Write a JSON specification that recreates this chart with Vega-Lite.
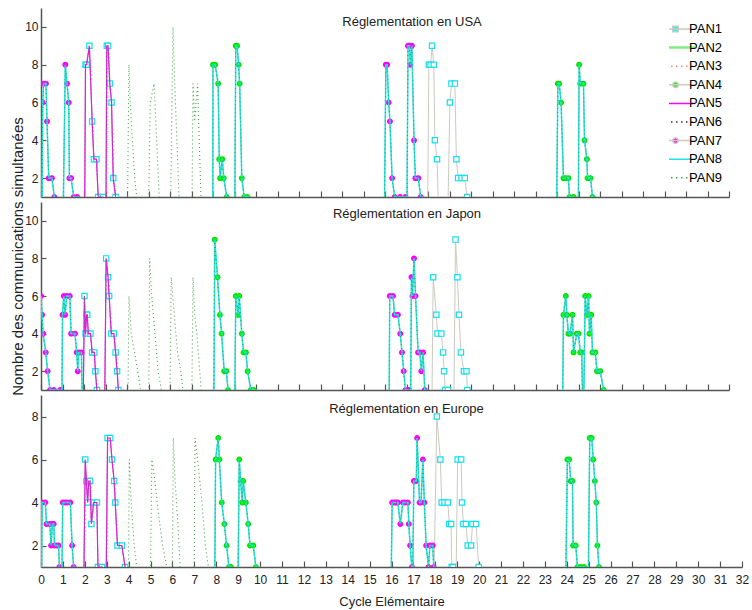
{
  "$schema": "https://vega.github.io/schema/vega-lite/v6.json",
  "background": "white",
  "padding": {"left": 10, "top": 8, "right": 5, "bottom": 3},
  "autosize": {"type": "pad"},
  "bounds": "flush",
  "spacing": 5,
  "config": {
    "font": "Liberation Sans",
    "view": {"stroke": null},
    "axis": {"grid": false, "domainColor": "#555555", "domainWidth": 1.5, "tickColor": "#555555", "tickWidth": 1.2, "labelFont": "Liberation Sans", "labelFontSize": 12, "labelColor": "#222222", "titleFont": "Liberation Sans", "titleFontWeight": "normal", "titleColor": "#222222", "zindex": 1, "labelFlush": false, "labelOverlap": false},
    "title": {"font": "Liberation Sans", "fontSize": 13, "fontWeight": "normal", "color": "#222222"}
  },
  "datasets": {
    "usa": [
      {"s":"PAN1","x":2.03,"y":0},{"s":"PAN1","x":2.07,"y":8},{"s":"PAN1","x":2.12,"y":8},{"s":"PAN1","x":2.25,"y":9},{"s":"PAN1","x":2.38,"y":5},{"s":"PAN1","x":2.46,"y":3},{"s":"PAN1","x":2.58,"y":3},{"s":"PAN1","x":2.66,"y":1},{"s":"PAN1","x":2.89,"y":1},
      {"s":"PAN1","x":3.02,"y":0},{"s":"PAN1","x":3.06,"y":9},{"s":"PAN1","x":3.12,"y":9},{"s":"PAN1","x":3.2,"y":7},{"s":"PAN1","x":3.28,"y":6},{"s":"PAN1","x":3.36,"y":2},{"s":"PAN1","x":3.47,"y":1},
      {"s":"PAN1","x":17.98,"y":0},{"s":"PAN1","x":18.04,"y":8},{"s":"PAN1","x":18.12,"y":8},{"s":"PAN1","x":18.19,"y":9},{"s":"PAN1","x":18.27,"y":8},{"s":"PAN1","x":18.32,"y":4},{"s":"PAN1","x":18.42,"y":3},{"s":"PAN1","x":18.5,"y":0},
      {"s":"PAN1","x":18.92,"y":0},{"s":"PAN1","x":19.02,"y":6},{"s":"PAN1","x":19.09,"y":7},{"s":"PAN1","x":19.25,"y":7},{"s":"PAN1","x":19.32,"y":3},{"s":"PAN1","x":19.4,"y":2},{"s":"PAN1","x":19.56,"y":2},{"s":"PAN1","x":19.71,"y":2},{"s":"PAN1","x":19.82,"y":1},
      {"s":"PAN4","x":7.99,"y":0},{"s":"PAN4","x":8.0,"y":8},{"s":"PAN4","x":8.1,"y":8},{"s":"PAN4","x":8.24,"y":7},{"s":"PAN4","x":8.29,"y":3},{"s":"PAN4","x":8.33,"y":2},{"s":"PAN4","x":8.43,"y":3},{"s":"PAN4","x":8.5,"y":2},{"s":"PAN4","x":8.64,"y":1},
      {"s":"PAN4","x":9.01,"y":0},{"s":"PAN4","x":9.06,"y":9},{"s":"PAN4","x":9.12,"y":9},{"s":"PAN4","x":9.19,"y":8},{"s":"PAN4","x":9.24,"y":7},{"s":"PAN4","x":9.34,"y":2},{"s":"PAN4","x":9.45,"y":1},{"s":"PAN4","x":9.6,"y":1},
      {"s":"PAN4","x":23.98,"y":0},{"s":"PAN4","x":24.04,"y":7},{"s":"PAN4","x":24.1,"y":7},{"s":"PAN4","x":24.19,"y":6},{"s":"PAN4","x":24.3,"y":2},{"s":"PAN4","x":24.4,"y":2},{"s":"PAN4","x":24.53,"y":2},{"s":"PAN4","x":24.58,"y":1},{"s":"PAN4","x":24.77,"y":1},
      {"s":"PAN4","x":24.99,"y":0},{"s":"PAN4","x":25.03,"y":8},{"s":"PAN4","x":25.08,"y":7},{"s":"PAN4","x":25.23,"y":7},{"s":"PAN4","x":25.28,"y":4},{"s":"PAN4","x":25.39,"y":3},{"s":"PAN4","x":25.42,"y":2},{"s":"PAN4","x":25.56,"y":2},{"s":"PAN4","x":25.65,"y":1},
      {"s":"PAN5","x":2.03,"y":0},{"s":"PAN5","x":2.07,"y":8},{"s":"PAN5","x":2.12,"y":8},{"s":"PAN5","x":2.25,"y":9},{"s":"PAN5","x":2.38,"y":5},{"s":"PAN5","x":2.46,"y":3},{"s":"PAN5","x":2.58,"y":3},{"s":"PAN5","x":2.66,"y":1},{"s":"PAN5","x":2.89,"y":1},
      {"s":"PAN5","x":3.02,"y":0},{"s":"PAN5","x":3.06,"y":9},{"s":"PAN5","x":3.12,"y":9},{"s":"PAN5","x":3.2,"y":7},{"s":"PAN5","x":3.28,"y":6},{"s":"PAN5","x":3.36,"y":2},{"s":"PAN5","x":3.47,"y":1},
      {"s":"PAN7","x":0.05,"y":0},{"s":"PAN7","x":0.08,"y":6},{"s":"PAN7","x":0.12,"y":7},{"s":"PAN7","x":0.23,"y":7},{"s":"PAN7","x":0.28,"y":5},{"s":"PAN7","x":0.36,"y":2},{"s":"PAN7","x":0.51,"y":2},{"s":"PAN7","x":0.62,"y":1},
      {"s":"PAN7","x":1.03,"y":0},{"s":"PAN7","x":1.13,"y":8},{"s":"PAN7","x":1.21,"y":7},{"s":"PAN7","x":1.29,"y":6},{"s":"PAN7","x":1.32,"y":2},{"s":"PAN7","x":1.4,"y":2},{"s":"PAN7","x":1.52,"y":1},{"s":"PAN7","x":1.68,"y":1},
      {"s":"PAN7","x":15.97,"y":0},{"s":"PAN7","x":16.04,"y":8},{"s":"PAN7","x":16.1,"y":8},{"s":"PAN7","x":16.17,"y":6},{"s":"PAN7","x":16.23,"y":5},{"s":"PAN7","x":16.33,"y":2},{"s":"PAN7","x":16.45,"y":1},{"s":"PAN7","x":16.7,"y":1},{"s":"PAN7","x":16.95,"y":1},
      {"s":"PAN7","x":17.02,"y":0},{"s":"PAN7","x":17.07,"y":9},{"s":"PAN7","x":17.14,"y":9},{"s":"PAN7","x":17.18,"y":8},{"s":"PAN7","x":17.25,"y":9},{"s":"PAN7","x":17.35,"y":4},{"s":"PAN7","x":17.41,"y":2},{"s":"PAN7","x":17.55,"y":2},{"s":"PAN7","x":17.66,"y":1},
      {"s":"PAN8","x":0.05,"y":0},{"s":"PAN8","x":0.08,"y":6},{"s":"PAN8","x":0.12,"y":7},{"s":"PAN8","x":0.23,"y":7},{"s":"PAN8","x":0.28,"y":5},{"s":"PAN8","x":0.36,"y":2},{"s":"PAN8","x":0.51,"y":2},{"s":"PAN8","x":0.62,"y":1},
      {"s":"PAN8","x":1.03,"y":0},{"s":"PAN8","x":1.13,"y":8},{"s":"PAN8","x":1.21,"y":7},{"s":"PAN8","x":1.29,"y":6},{"s":"PAN8","x":1.32,"y":2},{"s":"PAN8","x":1.4,"y":2},{"s":"PAN8","x":1.52,"y":1},{"s":"PAN8","x":1.68,"y":1},
      {"s":"PAN8","x":7.99,"y":0},{"s":"PAN8","x":8.0,"y":8},{"s":"PAN8","x":8.1,"y":8},{"s":"PAN8","x":8.24,"y":7},{"s":"PAN8","x":8.29,"y":3},{"s":"PAN8","x":8.33,"y":2},{"s":"PAN8","x":8.43,"y":3},{"s":"PAN8","x":8.5,"y":2},{"s":"PAN8","x":8.64,"y":1},
      {"s":"PAN8","x":9.01,"y":0},{"s":"PAN8","x":9.06,"y":9},{"s":"PAN8","x":9.12,"y":9},{"s":"PAN8","x":9.19,"y":8},{"s":"PAN8","x":9.24,"y":7},{"s":"PAN8","x":9.34,"y":2},{"s":"PAN8","x":9.45,"y":1},{"s":"PAN8","x":9.6,"y":1},
      {"s":"PAN8","x":15.97,"y":0},{"s":"PAN8","x":16.04,"y":8},{"s":"PAN8","x":16.1,"y":8},{"s":"PAN8","x":16.17,"y":6},{"s":"PAN8","x":16.23,"y":5},{"s":"PAN8","x":16.33,"y":2},{"s":"PAN8","x":16.45,"y":1},{"s":"PAN8","x":16.7,"y":1},{"s":"PAN8","x":16.95,"y":1},
      {"s":"PAN8","x":17.02,"y":0},{"s":"PAN8","x":17.07,"y":9},{"s":"PAN8","x":17.14,"y":9},{"s":"PAN8","x":17.18,"y":8},{"s":"PAN8","x":17.25,"y":9},{"s":"PAN8","x":17.35,"y":4},{"s":"PAN8","x":17.41,"y":2},{"s":"PAN8","x":17.55,"y":2},{"s":"PAN8","x":17.66,"y":1},
      {"s":"PAN8","x":23.98,"y":0},{"s":"PAN8","x":24.04,"y":7},{"s":"PAN8","x":24.1,"y":7},{"s":"PAN8","x":24.19,"y":6},{"s":"PAN8","x":24.3,"y":2},{"s":"PAN8","x":24.4,"y":2},{"s":"PAN8","x":24.53,"y":2},{"s":"PAN8","x":24.58,"y":1},{"s":"PAN8","x":24.77,"y":1},
      {"s":"PAN8","x":24.99,"y":0},{"s":"PAN8","x":25.03,"y":8},{"s":"PAN8","x":25.08,"y":7},{"s":"PAN8","x":25.23,"y":7},{"s":"PAN8","x":25.28,"y":4},{"s":"PAN8","x":25.39,"y":3},{"s":"PAN8","x":25.42,"y":2},{"s":"PAN8","x":25.56,"y":2},{"s":"PAN8","x":25.65,"y":1},
      {"s":"PAN9","x":4.02,"y":0},{"s":"PAN9","x":4.09,"y":8},{"s":"PAN9","x":4.15,"y":6},{"s":"PAN9","x":4.25,"y":4},{"s":"PAN9","x":4.36,"y":2},{"s":"PAN9","x":4.45,"y":1},
      {"s":"PAN9","x":5.0,"y":0},{"s":"PAN9","x":5.08,"y":6},{"s":"PAN9","x":5.26,"y":7},{"s":"PAN9","x":5.38,"y":4},{"s":"PAN9","x":5.5,"y":1},
      {"s":"PAN9","x":6.02,"y":0},{"s":"PAN9","x":6.14,"y":10},{"s":"PAN9","x":6.22,"y":7},{"s":"PAN9","x":6.32,"y":4},{"s":"PAN9","x":6.42,"y":1},
      {"s":"PAN9","x":7.02,"y":0},{"s":"PAN9","x":7.07,"y":7},{"s":"PAN9","x":7.15,"y":5},{"s":"PAN9","x":7.28,"y":7},{"s":"PAN9","x":7.36,"y":4},{"s":"PAN9","x":7.44,"y":1},
      {"s":"PAN9","x":0.05,"y":0},{"s":"PAN9","x":0.08,"y":6},{"s":"PAN9","x":0.12,"y":7},{"s":"PAN9","x":0.23,"y":7},{"s":"PAN9","x":0.28,"y":5},{"s":"PAN9","x":0.36,"y":2},{"s":"PAN9","x":0.51,"y":2},{"s":"PAN9","x":0.62,"y":1},
      {"s":"PAN9","x":1.03,"y":0},{"s":"PAN9","x":1.13,"y":8},{"s":"PAN9","x":1.21,"y":7},{"s":"PAN9","x":1.29,"y":6},{"s":"PAN9","x":1.32,"y":2},{"s":"PAN9","x":1.4,"y":2},{"s":"PAN9","x":1.52,"y":1},{"s":"PAN9","x":1.68,"y":1},
      {"s":"PAN9","x":2.03,"y":0},{"s":"PAN9","x":2.07,"y":8},{"s":"PAN9","x":2.12,"y":8},{"s":"PAN9","x":2.25,"y":9},{"s":"PAN9","x":2.38,"y":5},{"s":"PAN9","x":2.46,"y":3},{"s":"PAN9","x":2.58,"y":3},{"s":"PAN9","x":2.66,"y":1},{"s":"PAN9","x":2.89,"y":1},
      {"s":"PAN9","x":3.02,"y":0},{"s":"PAN9","x":3.06,"y":9},{"s":"PAN9","x":3.12,"y":9},{"s":"PAN9","x":3.2,"y":7},{"s":"PAN9","x":3.28,"y":6},{"s":"PAN9","x":3.36,"y":2},{"s":"PAN9","x":3.47,"y":1},
      {"s":"PAN9","x":7.99,"y":0},{"s":"PAN9","x":8.0,"y":8},{"s":"PAN9","x":8.1,"y":8},{"s":"PAN9","x":8.24,"y":7},{"s":"PAN9","x":8.29,"y":3},{"s":"PAN9","x":8.33,"y":2},{"s":"PAN9","x":8.43,"y":3},{"s":"PAN9","x":8.5,"y":2},{"s":"PAN9","x":8.64,"y":1},
      {"s":"PAN9","x":9.01,"y":0},{"s":"PAN9","x":9.06,"y":9},{"s":"PAN9","x":9.12,"y":9},{"s":"PAN9","x":9.19,"y":8},{"s":"PAN9","x":9.24,"y":7},{"s":"PAN9","x":9.34,"y":2},{"s":"PAN9","x":9.45,"y":1},{"s":"PAN9","x":9.6,"y":1},
      {"s":"PAN9","x":15.97,"y":0},{"s":"PAN9","x":16.04,"y":8},{"s":"PAN9","x":16.1,"y":8},{"s":"PAN9","x":16.17,"y":6},{"s":"PAN9","x":16.23,"y":5},{"s":"PAN9","x":16.33,"y":2},{"s":"PAN9","x":16.45,"y":1},{"s":"PAN9","x":16.7,"y":1},{"s":"PAN9","x":16.95,"y":1},
      {"s":"PAN9","x":17.02,"y":0},{"s":"PAN9","x":17.07,"y":9},{"s":"PAN9","x":17.14,"y":9},{"s":"PAN9","x":17.18,"y":8},{"s":"PAN9","x":17.25,"y":9},{"s":"PAN9","x":17.35,"y":4},{"s":"PAN9","x":17.41,"y":2},{"s":"PAN9","x":17.55,"y":2},{"s":"PAN9","x":17.66,"y":1},
      {"s":"PAN9","x":23.98,"y":0},{"s":"PAN9","x":24.04,"y":7},{"s":"PAN9","x":24.1,"y":7},{"s":"PAN9","x":24.19,"y":6},{"s":"PAN9","x":24.3,"y":2},{"s":"PAN9","x":24.4,"y":2},{"s":"PAN9","x":24.53,"y":2},{"s":"PAN9","x":24.58,"y":1},{"s":"PAN9","x":24.77,"y":1},
      {"s":"PAN9","x":24.99,"y":0},{"s":"PAN9","x":25.03,"y":8},{"s":"PAN9","x":25.08,"y":7},{"s":"PAN9","x":25.23,"y":7},{"s":"PAN9","x":25.28,"y":4},{"s":"PAN9","x":25.39,"y":3},{"s":"PAN9","x":25.42,"y":2},{"s":"PAN9","x":25.56,"y":2},{"s":"PAN9","x":25.65,"y":1}
    ],
    "japon": [
      {"s":"PAN1","x":1.96,"y":0},{"s":"PAN1","x":2.02,"y":6},{"s":"PAN1","x":2.07,"y":4},{"s":"PAN1","x":2.12,"y":5},{"s":"PAN1","x":2.15,"y":5},{"s":"PAN1","x":2.2,"y":4},{"s":"PAN1","x":2.3,"y":4},{"s":"PAN1","x":2.38,"y":3},{"s":"PAN1","x":2.48,"y":3},{"s":"PAN1","x":2.53,"y":2},{"s":"PAN1","x":2.6,"y":1},
      {"s":"PAN1","x":2.96,"y":0},{"s":"PAN1","x":3.03,"y":8},{"s":"PAN1","x":3.12,"y":7},{"s":"PAN1","x":3.17,"y":6},{"s":"PAN1","x":3.27,"y":4},{"s":"PAN1","x":3.39,"y":4},{"s":"PAN1","x":3.47,"y":3},{"s":"PAN1","x":3.54,"y":2},{"s":"PAN1","x":3.6,"y":1},
      {"s":"PAN1","x":18.18,"y":0},{"s":"PAN1","x":18.24,"y":7},{"s":"PAN1","x":18.39,"y":5},{"s":"PAN1","x":18.44,"y":4},{"s":"PAN1","x":18.62,"y":4},{"s":"PAN1","x":18.7,"y":3},{"s":"PAN1","x":18.75,"y":2},{"s":"PAN1","x":18.8,"y":1},{"s":"PAN1","x":18.93,"y":1},
      {"s":"PAN1","x":19.2,"y":0},{"s":"PAN1","x":19.28,"y":9},{"s":"PAN1","x":19.37,"y":7},{"s":"PAN1","x":19.44,"y":5},{"s":"PAN1","x":19.53,"y":3},{"s":"PAN1","x":19.67,"y":2},{"s":"PAN1","x":19.79,"y":2},{"s":"PAN1","x":19.83,"y":1},
      {"s":"PAN4","x":8.04,"y":0},{"s":"PAN4","x":8.08,"y":9},{"s":"PAN4","x":8.21,"y":7},{"s":"PAN4","x":8.32,"y":5},{"s":"PAN4","x":8.4,"y":4},{"s":"PAN4","x":8.52,"y":2},{"s":"PAN4","x":8.62,"y":2},{"s":"PAN4","x":8.7,"y":1},
      {"s":"PAN4","x":9.01,"y":0},{"s":"PAN4","x":9.06,"y":6},{"s":"PAN4","x":9.17,"y":5},{"s":"PAN4","x":9.22,"y":6},{"s":"PAN4","x":9.34,"y":4},{"s":"PAN4","x":9.42,"y":3},{"s":"PAN4","x":9.53,"y":3},{"s":"PAN4","x":9.61,"y":2},{"s":"PAN4","x":9.76,"y":1},{"s":"PAN4","x":9.9,"y":1},
      {"s":"PAN4","x":24.26,"y":0},{"s":"PAN4","x":24.3,"y":5},{"s":"PAN4","x":24.41,"y":6},{"s":"PAN4","x":24.46,"y":5},{"s":"PAN4","x":24.53,"y":4},{"s":"PAN4","x":24.61,"y":4},{"s":"PAN4","x":24.72,"y":5},{"s":"PAN4","x":24.77,"y":3},{"s":"PAN4","x":24.92,"y":4},{"s":"PAN4","x":25.0,"y":4},{"s":"PAN4","x":25.08,"y":3},{"s":"PAN4","x":25.15,"y":3},{"s":"PAN4","x":25.2,"y":0},
      {"s":"PAN4","x":25.24,"y":0},{"s":"PAN4","x":25.31,"y":6},{"s":"PAN4","x":25.39,"y":5},{"s":"PAN4","x":25.47,"y":6},{"s":"PAN4","x":25.51,"y":4},{"s":"PAN4","x":25.59,"y":5},{"s":"PAN4","x":25.65,"y":3},{"s":"PAN4","x":25.78,"y":3},{"s":"PAN4","x":25.86,"y":2},{"s":"PAN4","x":26.01,"y":2},{"s":"PAN4","x":26.17,"y":1},
      {"s":"PAN5","x":1.96,"y":0},{"s":"PAN5","x":2.02,"y":6},{"s":"PAN5","x":2.07,"y":4},{"s":"PAN5","x":2.12,"y":5},{"s":"PAN5","x":2.15,"y":5},{"s":"PAN5","x":2.2,"y":4},{"s":"PAN5","x":2.3,"y":4},{"s":"PAN5","x":2.38,"y":3},{"s":"PAN5","x":2.48,"y":3},{"s":"PAN5","x":2.53,"y":2},{"s":"PAN5","x":2.6,"y":1},
      {"s":"PAN5","x":2.96,"y":0},{"s":"PAN5","x":3.03,"y":8},{"s":"PAN5","x":3.12,"y":7},{"s":"PAN5","x":3.17,"y":6},{"s":"PAN5","x":3.27,"y":4},{"s":"PAN5","x":3.39,"y":4},{"s":"PAN5","x":3.47,"y":3},{"s":"PAN5","x":3.54,"y":2},{"s":"PAN5","x":3.6,"y":1},
      {"s":"PAN7","x":0.0,"y":6},{"s":"PAN7","x":0.05,"y":5},{"s":"PAN7","x":0.1,"y":4},{"s":"PAN7","x":0.22,"y":3},{"s":"PAN7","x":0.31,"y":2},{"s":"PAN7","x":0.42,"y":1},{"s":"PAN7","x":0.6,"y":1},{"s":"PAN7","x":0.89,"y":1},
      {"s":"PAN7","x":0.97,"y":0},{"s":"PAN7","x":1.0,"y":5},{"s":"PAN7","x":1.06,"y":6},{"s":"PAN7","x":1.12,"y":5},{"s":"PAN7","x":1.2,"y":6},{"s":"PAN7","x":1.34,"y":6},{"s":"PAN7","x":1.4,"y":4},{"s":"PAN7","x":1.58,"y":4},{"s":"PAN7","x":1.66,"y":3},{"s":"PAN7","x":1.71,"y":2},{"s":"PAN7","x":1.76,"y":3},{"s":"PAN7","x":1.88,"y":3},{"s":"PAN7","x":1.93,"y":0},
      {"s":"PAN7","x":16.19,"y":0},{"s":"PAN7","x":16.22,"y":6},{"s":"PAN7","x":16.37,"y":6},{"s":"PAN7","x":16.45,"y":5},{"s":"PAN7","x":16.6,"y":5},{"s":"PAN7","x":16.71,"y":4},{"s":"PAN7","x":16.79,"y":3},{"s":"PAN7","x":16.87,"y":2},{"s":"PAN7","x":16.95,"y":1},{"s":"PAN7","x":17.1,"y":1},
      {"s":"PAN7","x":17.19,"y":0},{"s":"PAN7","x":17.23,"y":7},{"s":"PAN7","x":17.28,"y":6},{"s":"PAN7","x":17.35,"y":8},{"s":"PAN7","x":17.42,"y":6},{"s":"PAN7","x":17.54,"y":3},{"s":"PAN7","x":17.62,"y":3},{"s":"PAN7","x":17.69,"y":2},{"s":"PAN7","x":17.77,"y":3},{"s":"PAN7","x":17.85,"y":1},
      {"s":"PAN8","x":0.0,"y":6},{"s":"PAN8","x":0.05,"y":5},{"s":"PAN8","x":0.1,"y":4},{"s":"PAN8","x":0.22,"y":3},{"s":"PAN8","x":0.31,"y":2},{"s":"PAN8","x":0.42,"y":1},{"s":"PAN8","x":0.6,"y":1},{"s":"PAN8","x":0.89,"y":1},
      {"s":"PAN8","x":0.97,"y":0},{"s":"PAN8","x":1.0,"y":5},{"s":"PAN8","x":1.06,"y":6},{"s":"PAN8","x":1.12,"y":5},{"s":"PAN8","x":1.2,"y":6},{"s":"PAN8","x":1.34,"y":6},{"s":"PAN8","x":1.4,"y":4},{"s":"PAN8","x":1.58,"y":4},{"s":"PAN8","x":1.66,"y":3},{"s":"PAN8","x":1.71,"y":2},{"s":"PAN8","x":1.76,"y":3},{"s":"PAN8","x":1.88,"y":3},{"s":"PAN8","x":1.93,"y":0},
      {"s":"PAN8","x":8.04,"y":0},{"s":"PAN8","x":8.08,"y":9},{"s":"PAN8","x":8.21,"y":7},{"s":"PAN8","x":8.32,"y":5},{"s":"PAN8","x":8.4,"y":4},{"s":"PAN8","x":8.52,"y":2},{"s":"PAN8","x":8.62,"y":2},{"s":"PAN8","x":8.7,"y":1},
      {"s":"PAN8","x":9.01,"y":0},{"s":"PAN8","x":9.06,"y":6},{"s":"PAN8","x":9.17,"y":5},{"s":"PAN8","x":9.22,"y":6},{"s":"PAN8","x":9.34,"y":4},{"s":"PAN8","x":9.42,"y":3},{"s":"PAN8","x":9.53,"y":3},{"s":"PAN8","x":9.61,"y":2},{"s":"PAN8","x":9.76,"y":1},{"s":"PAN8","x":9.9,"y":1},
      {"s":"PAN8","x":16.19,"y":0},{"s":"PAN8","x":16.22,"y":6},{"s":"PAN8","x":16.37,"y":6},{"s":"PAN8","x":16.45,"y":5},{"s":"PAN8","x":16.6,"y":5},{"s":"PAN8","x":16.71,"y":4},{"s":"PAN8","x":16.79,"y":3},{"s":"PAN8","x":16.87,"y":2},{"s":"PAN8","x":16.95,"y":1},{"s":"PAN8","x":17.1,"y":1},
      {"s":"PAN8","x":17.19,"y":0},{"s":"PAN8","x":17.23,"y":7},{"s":"PAN8","x":17.28,"y":6},{"s":"PAN8","x":17.35,"y":8},{"s":"PAN8","x":17.42,"y":6},{"s":"PAN8","x":17.54,"y":3},{"s":"PAN8","x":17.62,"y":3},{"s":"PAN8","x":17.69,"y":2},{"s":"PAN8","x":17.77,"y":3},{"s":"PAN8","x":17.85,"y":1},
      {"s":"PAN8","x":24.26,"y":0},{"s":"PAN8","x":24.3,"y":5},{"s":"PAN8","x":24.41,"y":6},{"s":"PAN8","x":24.46,"y":5},{"s":"PAN8","x":24.53,"y":4},{"s":"PAN8","x":24.61,"y":4},{"s":"PAN8","x":24.72,"y":5},{"s":"PAN8","x":24.77,"y":3},{"s":"PAN8","x":24.92,"y":4},{"s":"PAN8","x":25.0,"y":4},{"s":"PAN8","x":25.08,"y":3},{"s":"PAN8","x":25.15,"y":3},{"s":"PAN8","x":25.2,"y":0},
      {"s":"PAN8","x":25.24,"y":0},{"s":"PAN8","x":25.31,"y":6},{"s":"PAN8","x":25.39,"y":5},{"s":"PAN8","x":25.47,"y":6},{"s":"PAN8","x":25.51,"y":4},{"s":"PAN8","x":25.59,"y":5},{"s":"PAN8","x":25.65,"y":3},{"s":"PAN8","x":25.78,"y":3},{"s":"PAN8","x":25.86,"y":2},{"s":"PAN8","x":26.01,"y":2},{"s":"PAN8","x":26.17,"y":1},
      {"s":"PAN9","x":4.04,"y":0},{"s":"PAN9","x":4.09,"y":6},{"s":"PAN9","x":4.2,"y":4},{"s":"PAN9","x":4.35,"y":3},{"s":"PAN9","x":4.5,"y":2},{"s":"PAN9","x":4.63,"y":1},
      {"s":"PAN9","x":5.01,"y":0},{"s":"PAN9","x":5.05,"y":8},{"s":"PAN9","x":5.15,"y":6},{"s":"PAN9","x":5.3,"y":4},{"s":"PAN9","x":5.45,"y":2},{"s":"PAN9","x":5.6,"y":1},
      {"s":"PAN9","x":5.99,"y":0},{"s":"PAN9","x":6.06,"y":7},{"s":"PAN9","x":6.2,"y":5},{"s":"PAN9","x":6.35,"y":3},{"s":"PAN9","x":6.5,"y":2},{"s":"PAN9","x":6.6,"y":1},
      {"s":"PAN9","x":7.01,"y":0},{"s":"PAN9","x":7.07,"y":7},{"s":"PAN9","x":7.15,"y":5},{"s":"PAN9","x":7.25,"y":4},{"s":"PAN9","x":7.35,"y":2.5},{"s":"PAN9","x":7.45,"y":1},
      {"s":"PAN9","x":0.0,"y":6},{"s":"PAN9","x":0.05,"y":5},{"s":"PAN9","x":0.1,"y":4},{"s":"PAN9","x":0.22,"y":3},{"s":"PAN9","x":0.31,"y":2},{"s":"PAN9","x":0.42,"y":1},{"s":"PAN9","x":0.6,"y":1},{"s":"PAN9","x":0.89,"y":1},
      {"s":"PAN9","x":0.97,"y":0},{"s":"PAN9","x":1.0,"y":5},{"s":"PAN9","x":1.06,"y":6},{"s":"PAN9","x":1.12,"y":5},{"s":"PAN9","x":1.2,"y":6},{"s":"PAN9","x":1.34,"y":6},{"s":"PAN9","x":1.4,"y":4},{"s":"PAN9","x":1.58,"y":4},{"s":"PAN9","x":1.66,"y":3},{"s":"PAN9","x":1.71,"y":2},{"s":"PAN9","x":1.76,"y":3},{"s":"PAN9","x":1.88,"y":3},{"s":"PAN9","x":1.93,"y":0},
      {"s":"PAN9","x":1.96,"y":0},{"s":"PAN9","x":2.02,"y":6},{"s":"PAN9","x":2.07,"y":4},{"s":"PAN9","x":2.12,"y":5},{"s":"PAN9","x":2.15,"y":5},{"s":"PAN9","x":2.2,"y":4},{"s":"PAN9","x":2.3,"y":4},{"s":"PAN9","x":2.38,"y":3},{"s":"PAN9","x":2.48,"y":3},{"s":"PAN9","x":2.53,"y":2},{"s":"PAN9","x":2.6,"y":1},
      {"s":"PAN9","x":2.96,"y":0},{"s":"PAN9","x":3.03,"y":8},{"s":"PAN9","x":3.12,"y":7},{"s":"PAN9","x":3.17,"y":6},{"s":"PAN9","x":3.27,"y":4},{"s":"PAN9","x":3.39,"y":4},{"s":"PAN9","x":3.47,"y":3},{"s":"PAN9","x":3.54,"y":2},{"s":"PAN9","x":3.6,"y":1},
      {"s":"PAN9","x":8.04,"y":0},{"s":"PAN9","x":8.08,"y":9},{"s":"PAN9","x":8.21,"y":7},{"s":"PAN9","x":8.32,"y":5},{"s":"PAN9","x":8.4,"y":4},{"s":"PAN9","x":8.52,"y":2},{"s":"PAN9","x":8.62,"y":2},{"s":"PAN9","x":8.7,"y":1},
      {"s":"PAN9","x":9.01,"y":0},{"s":"PAN9","x":9.06,"y":6},{"s":"PAN9","x":9.17,"y":5},{"s":"PAN9","x":9.22,"y":6},{"s":"PAN9","x":9.34,"y":4},{"s":"PAN9","x":9.42,"y":3},{"s":"PAN9","x":9.53,"y":3},{"s":"PAN9","x":9.61,"y":2},{"s":"PAN9","x":9.76,"y":1},{"s":"PAN9","x":9.9,"y":1},
      {"s":"PAN9","x":16.19,"y":0},{"s":"PAN9","x":16.22,"y":6},{"s":"PAN9","x":16.37,"y":6},{"s":"PAN9","x":16.45,"y":5},{"s":"PAN9","x":16.6,"y":5},{"s":"PAN9","x":16.71,"y":4},{"s":"PAN9","x":16.79,"y":3},{"s":"PAN9","x":16.87,"y":2},{"s":"PAN9","x":16.95,"y":1},{"s":"PAN9","x":17.1,"y":1},
      {"s":"PAN9","x":17.19,"y":0},{"s":"PAN9","x":17.23,"y":7},{"s":"PAN9","x":17.28,"y":6},{"s":"PAN9","x":17.35,"y":8},{"s":"PAN9","x":17.42,"y":6},{"s":"PAN9","x":17.54,"y":3},{"s":"PAN9","x":17.62,"y":3},{"s":"PAN9","x":17.69,"y":2},{"s":"PAN9","x":17.77,"y":3},{"s":"PAN9","x":17.85,"y":1},
      {"s":"PAN9","x":24.26,"y":0},{"s":"PAN9","x":24.3,"y":5},{"s":"PAN9","x":24.41,"y":6},{"s":"PAN9","x":24.46,"y":5},{"s":"PAN9","x":24.53,"y":4},{"s":"PAN9","x":24.61,"y":4},{"s":"PAN9","x":24.72,"y":5},{"s":"PAN9","x":24.77,"y":3},{"s":"PAN9","x":24.92,"y":4},{"s":"PAN9","x":25.0,"y":4},{"s":"PAN9","x":25.08,"y":3},{"s":"PAN9","x":25.15,"y":3},{"s":"PAN9","x":25.2,"y":0},
      {"s":"PAN9","x":25.24,"y":0},{"s":"PAN9","x":25.31,"y":6},{"s":"PAN9","x":25.39,"y":5},{"s":"PAN9","x":25.47,"y":6},{"s":"PAN9","x":25.51,"y":4},{"s":"PAN9","x":25.59,"y":5},{"s":"PAN9","x":25.65,"y":3},{"s":"PAN9","x":25.78,"y":3},{"s":"PAN9","x":25.86,"y":2},{"s":"PAN9","x":26.01,"y":2},{"s":"PAN9","x":26.17,"y":1}
    ],
    "europe": [
      {"s":"PAN1","x":1.95,"y":0},{"s":"PAN1","x":2.02,"y":6},{"s":"PAN1","x":2.07,"y":5},{"s":"PAN1","x":2.13,"y":4},{"s":"PAN1","x":2.18,"y":5},{"s":"PAN1","x":2.24,"y":5},{"s":"PAN1","x":2.3,"y":3},{"s":"PAN1","x":2.4,"y":4},{"s":"PAN1","x":2.55,"y":4},{"s":"PAN1","x":2.6,"y":1},{"s":"PAN1","x":2.78,"y":1},
      {"s":"PAN1","x":2.97,"y":0},{"s":"PAN1","x":3.04,"y":7},{"s":"PAN1","x":3.16,"y":7},{"s":"PAN1","x":3.24,"y":6},{"s":"PAN1","x":3.34,"y":5},{"s":"PAN1","x":3.39,"y":4},{"s":"PAN1","x":3.49,"y":2},{"s":"PAN1","x":3.69,"y":2},{"s":"PAN1","x":3.84,"y":1},
      {"s":"PAN1","x":17.93,"y":0},{"s":"PAN1","x":18.07,"y":8},{"s":"PAN1","x":18.23,"y":6},{"s":"PAN1","x":18.29,"y":4},{"s":"PAN1","x":18.42,"y":4},{"s":"PAN1","x":18.57,"y":4},{"s":"PAN1","x":18.64,"y":3},{"s":"PAN1","x":18.72,"y":3},{"s":"PAN1","x":18.75,"y":1},{"s":"PAN1","x":18.8,"y":1},
      {"s":"PAN1","x":18.94,"y":0},{"s":"PAN1","x":19.02,"y":6},{"s":"PAN1","x":19.18,"y":6},{"s":"PAN1","x":19.22,"y":4},{"s":"PAN1","x":19.28,"y":3},{"s":"PAN1","x":19.4,"y":3},{"s":"PAN1","x":19.48,"y":2},{"s":"PAN1","x":19.63,"y":2},{"s":"PAN1","x":19.7,"y":3},{"s":"PAN1","x":19.86,"y":3},{"s":"PAN1","x":19.98,"y":1},
      {"s":"PAN4","x":7.93,"y":0},{"s":"PAN4","x":7.97,"y":6},{"s":"PAN4","x":8.09,"y":7},{"s":"PAN4","x":8.14,"y":6},{"s":"PAN4","x":8.25,"y":4},{"s":"PAN4","x":8.37,"y":3},{"s":"PAN4","x":8.47,"y":2},{"s":"PAN4","x":8.58,"y":1},{"s":"PAN4","x":8.67,"y":1},
      {"s":"PAN4","x":8.99,"y":0},{"s":"PAN4","x":9.05,"y":6},{"s":"PAN4","x":9.11,"y":5},{"s":"PAN4","x":9.19,"y":4},{"s":"PAN4","x":9.23,"y":5},{"s":"PAN4","x":9.35,"y":4},{"s":"PAN4","x":9.46,"y":3},{"s":"PAN4","x":9.54,"y":2},{"s":"PAN4","x":9.69,"y":2},{"s":"PAN4","x":9.81,"y":1},
      {"s":"PAN4","x":23.95,"y":0},{"s":"PAN4","x":24.03,"y":6},{"s":"PAN4","x":24.11,"y":6},{"s":"PAN4","x":24.18,"y":5},{"s":"PAN4","x":24.26,"y":5},{"s":"PAN4","x":24.29,"y":2},{"s":"PAN4","x":24.41,"y":2},{"s":"PAN4","x":24.49,"y":1},{"s":"PAN4","x":24.64,"y":1},{"s":"PAN4","x":24.79,"y":1},
      {"s":"PAN4","x":24.98,"y":0},{"s":"PAN4","x":25.05,"y":7},{"s":"PAN4","x":25.14,"y":7},{"s":"PAN4","x":25.21,"y":6},{"s":"PAN4","x":25.28,"y":5},{"s":"PAN4","x":25.35,"y":4},{"s":"PAN4","x":25.4,"y":2},{"s":"PAN4","x":25.47,"y":1},
      {"s":"PAN5","x":1.95,"y":0},{"s":"PAN5","x":2.02,"y":6},{"s":"PAN5","x":2.07,"y":5},{"s":"PAN5","x":2.13,"y":4},{"s":"PAN5","x":2.18,"y":5},{"s":"PAN5","x":2.24,"y":5},{"s":"PAN5","x":2.3,"y":3},{"s":"PAN5","x":2.4,"y":4},{"s":"PAN5","x":2.55,"y":4},{"s":"PAN5","x":2.6,"y":1},{"s":"PAN5","x":2.78,"y":1},
      {"s":"PAN5","x":2.97,"y":0},{"s":"PAN5","x":3.04,"y":7},{"s":"PAN5","x":3.16,"y":7},{"s":"PAN5","x":3.24,"y":6},{"s":"PAN5","x":3.34,"y":5},{"s":"PAN5","x":3.39,"y":4},{"s":"PAN5","x":3.49,"y":2},{"s":"PAN5","x":3.69,"y":2},{"s":"PAN5","x":3.84,"y":1},
      {"s":"PAN7","x":0.02,"y":0},{"s":"PAN7","x":0.05,"y":4},{"s":"PAN7","x":0.2,"y":4},{"s":"PAN7","x":0.25,"y":3},{"s":"PAN7","x":0.4,"y":3},{"s":"PAN7","x":0.46,"y":2},{"s":"PAN7","x":0.52,"y":3},{"s":"PAN7","x":0.58,"y":3},{"s":"PAN7","x":0.62,"y":2},{"s":"PAN7","x":0.72,"y":2},{"s":"PAN7","x":0.8,"y":2},{"s":"PAN7","x":0.84,"y":1},
      {"s":"PAN7","x":0.95,"y":0},{"s":"PAN7","x":0.99,"y":4},{"s":"PAN7","x":1.1,"y":4},{"s":"PAN7","x":1.2,"y":4},{"s":"PAN7","x":1.34,"y":4},{"s":"PAN7","x":1.42,"y":2},{"s":"PAN7","x":1.49,"y":1},
      {"s":"PAN7","x":15.98,"y":0},{"s":"PAN7","x":16.03,"y":4},{"s":"PAN7","x":16.12,"y":4},{"s":"PAN7","x":16.2,"y":4},{"s":"PAN7","x":16.29,"y":4},{"s":"PAN7","x":16.4,"y":3},{"s":"PAN7","x":16.52,"y":4},{"s":"PAN7","x":16.62,"y":4},{"s":"PAN7","x":16.75,"y":4},{"s":"PAN7","x":16.79,"y":3},{"s":"PAN7","x":16.85,"y":2},{"s":"PAN7","x":16.93,"y":1},
      {"s":"PAN7","x":16.96,"y":0},{"s":"PAN7","x":17.02,"y":5},{"s":"PAN7","x":17.13,"y":5},{"s":"PAN7","x":17.17,"y":7},{"s":"PAN7","x":17.28,"y":4},{"s":"PAN7","x":17.35,"y":4},{"s":"PAN7","x":17.43,"y":6},{"s":"PAN7","x":17.5,"y":4},{"s":"PAN7","x":17.58,"y":2},{"s":"PAN7","x":17.69,"y":1},{"s":"PAN7","x":17.75,"y":2},{"s":"PAN7","x":17.88,"y":2},{"s":"PAN7","x":17.93,"y":1},
      {"s":"PAN8","x":0.02,"y":0},{"s":"PAN8","x":0.05,"y":4},{"s":"PAN8","x":0.2,"y":4},{"s":"PAN8","x":0.25,"y":3},{"s":"PAN8","x":0.4,"y":3},{"s":"PAN8","x":0.46,"y":2},{"s":"PAN8","x":0.52,"y":3},{"s":"PAN8","x":0.58,"y":3},{"s":"PAN8","x":0.62,"y":2},{"s":"PAN8","x":0.72,"y":2},{"s":"PAN8","x":0.8,"y":2},{"s":"PAN8","x":0.84,"y":1},
      {"s":"PAN8","x":0.95,"y":0},{"s":"PAN8","x":0.99,"y":4},{"s":"PAN8","x":1.1,"y":4},{"s":"PAN8","x":1.2,"y":4},{"s":"PAN8","x":1.34,"y":4},{"s":"PAN8","x":1.42,"y":2},{"s":"PAN8","x":1.49,"y":1},
      {"s":"PAN8","x":7.93,"y":0},{"s":"PAN8","x":7.97,"y":6},{"s":"PAN8","x":8.09,"y":7},{"s":"PAN8","x":8.14,"y":6},{"s":"PAN8","x":8.25,"y":4},{"s":"PAN8","x":8.37,"y":3},{"s":"PAN8","x":8.47,"y":2},{"s":"PAN8","x":8.58,"y":1},{"s":"PAN8","x":8.67,"y":1},
      {"s":"PAN8","x":8.99,"y":0},{"s":"PAN8","x":9.05,"y":6},{"s":"PAN8","x":9.11,"y":5},{"s":"PAN8","x":9.19,"y":4},{"s":"PAN8","x":9.23,"y":5},{"s":"PAN8","x":9.35,"y":4},{"s":"PAN8","x":9.46,"y":3},{"s":"PAN8","x":9.54,"y":2},{"s":"PAN8","x":9.69,"y":2},{"s":"PAN8","x":9.81,"y":1},
      {"s":"PAN8","x":15.98,"y":0},{"s":"PAN8","x":16.03,"y":4},{"s":"PAN8","x":16.12,"y":4},{"s":"PAN8","x":16.2,"y":4},{"s":"PAN8","x":16.29,"y":4},{"s":"PAN8","x":16.4,"y":3},{"s":"PAN8","x":16.52,"y":4},{"s":"PAN8","x":16.62,"y":4},{"s":"PAN8","x":16.75,"y":4},{"s":"PAN8","x":16.79,"y":3},{"s":"PAN8","x":16.85,"y":2},{"s":"PAN8","x":16.93,"y":1},
      {"s":"PAN8","x":16.96,"y":0},{"s":"PAN8","x":17.02,"y":5},{"s":"PAN8","x":17.13,"y":5},{"s":"PAN8","x":17.17,"y":7},{"s":"PAN8","x":17.28,"y":4},{"s":"PAN8","x":17.35,"y":4},{"s":"PAN8","x":17.43,"y":6},{"s":"PAN8","x":17.5,"y":4},{"s":"PAN8","x":17.58,"y":2},{"s":"PAN8","x":17.69,"y":1},{"s":"PAN8","x":17.75,"y":2},{"s":"PAN8","x":17.88,"y":2},{"s":"PAN8","x":17.93,"y":1},
      {"s":"PAN8","x":23.95,"y":0},{"s":"PAN8","x":24.03,"y":6},{"s":"PAN8","x":24.11,"y":6},{"s":"PAN8","x":24.18,"y":5},{"s":"PAN8","x":24.26,"y":5},{"s":"PAN8","x":24.29,"y":2},{"s":"PAN8","x":24.41,"y":2},{"s":"PAN8","x":24.49,"y":1},{"s":"PAN8","x":24.64,"y":1},{"s":"PAN8","x":24.79,"y":1},
      {"s":"PAN8","x":24.98,"y":0},{"s":"PAN8","x":25.05,"y":7},{"s":"PAN8","x":25.14,"y":7},{"s":"PAN8","x":25.21,"y":6},{"s":"PAN8","x":25.28,"y":5},{"s":"PAN8","x":25.35,"y":4},{"s":"PAN8","x":25.4,"y":2},{"s":"PAN8","x":25.47,"y":1},
      {"s":"PAN9","x":3.99,"y":0},{"s":"PAN9","x":4.03,"y":6},{"s":"PAN9","x":4.12,"y":4},{"s":"PAN9","x":4.25,"y":2},{"s":"PAN9","x":4.37,"y":1},
      {"s":"PAN9","x":4.99,"y":0},{"s":"PAN9","x":5.06,"y":6},{"s":"PAN9","x":5.2,"y":5},{"s":"PAN9","x":5.36,"y":3.5},{"s":"PAN9","x":5.55,"y":2},{"s":"PAN9","x":5.74,"y":1},
      {"s":"PAN9","x":5.99,"y":0},{"s":"PAN9","x":6.04,"y":7},{"s":"PAN9","x":6.12,"y":5},{"s":"PAN9","x":6.25,"y":3},{"s":"PAN9","x":6.35,"y":1},
      {"s":"PAN9","x":6.99,"y":0},{"s":"PAN9","x":7.03,"y":7},{"s":"PAN9","x":7.15,"y":6},{"s":"PAN9","x":7.35,"y":4},{"s":"PAN9","x":7.5,"y":2},{"s":"PAN9","x":7.64,"y":1},
      {"s":"PAN9","x":0.02,"y":0},{"s":"PAN9","x":0.05,"y":4},{"s":"PAN9","x":0.2,"y":4},{"s":"PAN9","x":0.25,"y":3},{"s":"PAN9","x":0.4,"y":3},{"s":"PAN9","x":0.46,"y":2},{"s":"PAN9","x":0.52,"y":3},{"s":"PAN9","x":0.58,"y":3},{"s":"PAN9","x":0.62,"y":2},{"s":"PAN9","x":0.72,"y":2},{"s":"PAN9","x":0.8,"y":2},{"s":"PAN9","x":0.84,"y":1},
      {"s":"PAN9","x":0.95,"y":0},{"s":"PAN9","x":0.99,"y":4},{"s":"PAN9","x":1.1,"y":4},{"s":"PAN9","x":1.2,"y":4},{"s":"PAN9","x":1.34,"y":4},{"s":"PAN9","x":1.42,"y":2},{"s":"PAN9","x":1.49,"y":1},
      {"s":"PAN9","x":1.95,"y":0},{"s":"PAN9","x":2.02,"y":6},{"s":"PAN9","x":2.07,"y":5},{"s":"PAN9","x":2.13,"y":4},{"s":"PAN9","x":2.18,"y":5},{"s":"PAN9","x":2.24,"y":5},{"s":"PAN9","x":2.3,"y":3},{"s":"PAN9","x":2.4,"y":4},{"s":"PAN9","x":2.55,"y":4},{"s":"PAN9","x":2.6,"y":1},{"s":"PAN9","x":2.78,"y":1},
      {"s":"PAN9","x":2.97,"y":0},{"s":"PAN9","x":3.04,"y":7},{"s":"PAN9","x":3.16,"y":7},{"s":"PAN9","x":3.24,"y":6},{"s":"PAN9","x":3.34,"y":5},{"s":"PAN9","x":3.39,"y":4},{"s":"PAN9","x":3.49,"y":2},{"s":"PAN9","x":3.69,"y":2},{"s":"PAN9","x":3.84,"y":1},
      {"s":"PAN9","x":7.93,"y":0},{"s":"PAN9","x":7.97,"y":6},{"s":"PAN9","x":8.09,"y":7},{"s":"PAN9","x":8.14,"y":6},{"s":"PAN9","x":8.25,"y":4},{"s":"PAN9","x":8.37,"y":3},{"s":"PAN9","x":8.47,"y":2},{"s":"PAN9","x":8.58,"y":1},{"s":"PAN9","x":8.67,"y":1},
      {"s":"PAN9","x":8.99,"y":0},{"s":"PAN9","x":9.05,"y":6},{"s":"PAN9","x":9.11,"y":5},{"s":"PAN9","x":9.19,"y":4},{"s":"PAN9","x":9.23,"y":5},{"s":"PAN9","x":9.35,"y":4},{"s":"PAN9","x":9.46,"y":3},{"s":"PAN9","x":9.54,"y":2},{"s":"PAN9","x":9.69,"y":2},{"s":"PAN9","x":9.81,"y":1},
      {"s":"PAN9","x":15.98,"y":0},{"s":"PAN9","x":16.03,"y":4},{"s":"PAN9","x":16.12,"y":4},{"s":"PAN9","x":16.2,"y":4},{"s":"PAN9","x":16.29,"y":4},{"s":"PAN9","x":16.4,"y":3},{"s":"PAN9","x":16.52,"y":4},{"s":"PAN9","x":16.62,"y":4},{"s":"PAN9","x":16.75,"y":4},{"s":"PAN9","x":16.79,"y":3},{"s":"PAN9","x":16.85,"y":2},{"s":"PAN9","x":16.93,"y":1},
      {"s":"PAN9","x":16.96,"y":0},{"s":"PAN9","x":17.02,"y":5},{"s":"PAN9","x":17.13,"y":5},{"s":"PAN9","x":17.17,"y":7},{"s":"PAN9","x":17.28,"y":4},{"s":"PAN9","x":17.35,"y":4},{"s":"PAN9","x":17.43,"y":6},{"s":"PAN9","x":17.5,"y":4},{"s":"PAN9","x":17.58,"y":2},{"s":"PAN9","x":17.69,"y":1},{"s":"PAN9","x":17.75,"y":2},{"s":"PAN9","x":17.88,"y":2},{"s":"PAN9","x":17.93,"y":1},
      {"s":"PAN9","x":23.95,"y":0},{"s":"PAN9","x":24.03,"y":6},{"s":"PAN9","x":24.11,"y":6},{"s":"PAN9","x":24.18,"y":5},{"s":"PAN9","x":24.26,"y":5},{"s":"PAN9","x":24.29,"y":2},{"s":"PAN9","x":24.41,"y":2},{"s":"PAN9","x":24.49,"y":1},{"s":"PAN9","x":24.64,"y":1},{"s":"PAN9","x":24.79,"y":1},
      {"s":"PAN9","x":24.98,"y":0},{"s":"PAN9","x":25.05,"y":7},{"s":"PAN9","x":25.14,"y":7},{"s":"PAN9","x":25.21,"y":6},{"s":"PAN9","x":25.28,"y":5},{"s":"PAN9","x":25.35,"y":4},{"s":"PAN9","x":25.4,"y":2},{"s":"PAN9","x":25.47,"y":1}
    ]
  },
  "vconcat": [
    {
      "width": 688, "height": 189,
      "data": {"name": "usa"},
      "title": {"text": "Réglementation en USA", "offset": -31, "baseline": "alphabetic", "dx": 27, "frame": "group", "anchor": "middle"},
      "encoding": {
        "x": {"field": "x", "type": "quantitative", "scale": {"domain": [0, 32], "nice": false, "zero": false}, "axis": {"values": [0,1,2,3,4,5,6,7,8,9,10,11,12,13,14,15,16,17,18,19,20,21,22,23,24,25,26,27,28,29,30,31,32], "labels": false, "title": null, "tickSize": -6}},
        "y": {"field": "y", "type": "quantitative", "scale": {"domain": [1, 11], "nice": false, "zero": false}, "axis": {"values": [2,4,6,8,10], "tickSize": -5, "labelPadding": 8, "title": "Nombre des communications simultanées", "titleFontSize": 15, "titleX": -18.5, "titleY": 248, "titleBaseline": "alphabetic", "titleAlign": "center"}}
      },
      "layer": [
        {"transform": [{"filter": {"field": "s", "oneOf": ["PAN1","PAN4","PAN7"]}}],
         "mark": {"type": "line", "strokeWidth": 1, "clip": true},
         "encoding": {"stroke": {"field": "s", "type": "nominal",
           "scale": {"domain": ["PAN1","PAN2","PAN3","PAN4","PAN5","PAN6","PAN7","PAN8","PAN9"], "range": ["#cdc9c1","#80f080","#f08a78","#cdc9c1","#ff00ff","#333333","#cdc9c1","#1ee6e6","#45a045"]},
           "legend": {"title": null, "orient": "none", "legendX": 628, "legendY": 13, "direction": "vertical", "padding": 0, "symbolType": "stroke", "symbolSize": 1521, "symbolStrokeWidth": 1.5, "clipHeight": 16, "rowPadding": 2.6, "labelFont": "Liberation Sans", "labelFontSize": 13, "labelColor": "#000000", "labelOffset": 7,
             "encode": {"symbols": {"update": {
               "shape": {"signal": "datum.value === 'PAN1' ? 'M-1,0H1M-0.14,-0.14H0.14V0.14H-0.14Z' : (datum.value === 'PAN4' || datum.value === 'PAN7') ? 'M-1,0H1M0.14,0A0.14,0.14,0,1,1,-0.14,0A0.14,0.14,0,1,1,0.14,0Z' : 'stroke'"},
               "fill": {"signal": "datum.value === 'PAN1' ? '#00ffff' : datum.value === 'PAN4' ? '#00ff00' : datum.value === 'PAN7' ? '#ff00ff' : 'transparent'"},
               "strokeDash": {"signal": "(datum.value === 'PAN3' || datum.value === 'PAN6' || datum.value === 'PAN9') ? [1.5,3.5] : [1,0]"},
               "strokeWidth": {"signal": "datum.value === 'PAN2' ? 2.5 : 1.5"}
             }}}}}}},
        {"transform": [{"filter": {"field": "s", "oneOf": ["PAN1","PAN4","PAN7"]}}],
         "mark": {"type": "point", "filled": true, "opacity": 1, "strokeWidth": 1.2, "clip": true},
         "encoding": {
           "shape": {"condition": {"test": "datum.s === 'PAN1'", "value": "square"}, "value": "circle"},
           "size": {"condition": {"test": "datum.s === 'PAN1'", "value": 28}, "value": 22},
           "stroke": {"condition": [{"test": "datum.s === 'PAN1'", "value": "#12dff0"}, {"test": "datum.s === 'PAN4'", "value": "#00e000"}], "value": "#ff00ff"},
           "fill": {"condition": [{"test": "datum.s === 'PAN1'", "value": "#ffffff"}, {"test": "datum.s === 'PAN4'", "value": "#00ff00"}], "value": "#ff00ff"}
         }},
        {"transform": [{"filter": {"field": "s", "equal": "PAN5"}}], "mark": {"type": "line", "strokeWidth": 1.2, "clip": true},
         "encoding": {"stroke": {"field": "s", "type": "nominal", "scale": {"domain": ["PAN1","PAN2","PAN3","PAN4","PAN5","PAN6","PAN7","PAN8","PAN9"], "range": ["#cdc9c1","#80f080","#f08a78","#cdc9c1","#ff00ff","#333333","#cdc9c1","#1ee6e6","#45a045"]}, "legend": null}}},
        {"transform": [{"filter": {"field": "s", "equal": "PAN8"}}], "mark": {"type": "line", "strokeWidth": 1.5, "clip": true},
         "encoding": {"stroke": {"field": "s", "type": "nominal", "scale": {"domain": ["PAN1","PAN2","PAN3","PAN4","PAN5","PAN6","PAN7","PAN8","PAN9"], "range": ["#cdc9c1","#80f080","#f08a78","#cdc9c1","#ff00ff","#333333","#cdc9c1","#1ee6e6","#45a045"]}, "legend": null}}},
        {"transform": [{"filter": {"field": "s", "equal": "PAN9"}}], "mark": {"type": "line", "strokeWidth": 1.1, "strokeDash": [1, 3], "clip": true},
         "encoding": {"stroke": {"field": "s", "type": "nominal", "scale": {"domain": ["PAN1","PAN2","PAN3","PAN4","PAN5","PAN6","PAN7","PAN8","PAN9"], "range": ["#cdc9c1","#80f080","#f08a78","#cdc9c1","#ff00ff","#333333","#cdc9c1","#1ee6e6","#45a045"]}, "legend": null}}}
      ]
    },
    {
      "width": 688, "height": 188,
      "data": {"name": "japon"},
      "title": {"text": "Réglementation en Japon", "offset": -29, "baseline": "alphabetic", "dx": 22, "frame": "group", "anchor": "middle"},
      "encoding": {
        "x": {"field": "x", "type": "quantitative", "scale": {"domain": [0, 32], "nice": false, "zero": false}, "axis": {"values": [0,1,2,3,4,5,6,7,8,9,10,11,12,13,14,15,16,17,18,19,20,21,22,23,24,25,26,27,28,29,30,31,32], "labels": false, "title": null, "tickSize": -6}},
        "y": {"field": "y", "type": "quantitative", "scale": {"domain": [1, 11], "nice": false, "zero": false}, "axis": {"values": [2,4,6,8,10], "tickSize": -5, "labelPadding": 8, "title": null}}
      },
      "layer": [
        {"transform": [{"filter": {"field": "s", "oneOf": ["PAN1","PAN4","PAN7"]}}],
         "mark": {"type": "line", "strokeWidth": 1, "clip": true},
         "encoding": {"stroke": {"field": "s", "type": "nominal", "scale": {"domain": ["PAN1","PAN2","PAN3","PAN4","PAN5","PAN6","PAN7","PAN8","PAN9"], "range": ["#cdc9c1","#80f080","#f08a78","#cdc9c1","#ff00ff","#333333","#cdc9c1","#1ee6e6","#45a045"]}, "legend": null}}},
        {"transform": [{"filter": {"field": "s", "oneOf": ["PAN1","PAN4","PAN7"]}}],
         "mark": {"type": "point", "filled": true, "opacity": 1, "strokeWidth": 1.2, "clip": true},
         "encoding": {
           "shape": {"condition": {"test": "datum.s === 'PAN1'", "value": "square"}, "value": "circle"},
           "size": {"condition": {"test": "datum.s === 'PAN1'", "value": 28}, "value": 22},
           "stroke": {"condition": [{"test": "datum.s === 'PAN1'", "value": "#12dff0"}, {"test": "datum.s === 'PAN4'", "value": "#00e000"}], "value": "#ff00ff"},
           "fill": {"condition": [{"test": "datum.s === 'PAN1'", "value": "#ffffff"}, {"test": "datum.s === 'PAN4'", "value": "#00ff00"}], "value": "#ff00ff"}
         }},
        {"transform": [{"filter": {"field": "s", "equal": "PAN5"}}], "mark": {"type": "line", "strokeWidth": 1.2, "clip": true},
         "encoding": {"stroke": {"field": "s", "type": "nominal", "scale": {"domain": ["PAN1","PAN2","PAN3","PAN4","PAN5","PAN6","PAN7","PAN8","PAN9"], "range": ["#cdc9c1","#80f080","#f08a78","#cdc9c1","#ff00ff","#333333","#cdc9c1","#1ee6e6","#45a045"]}, "legend": null}}},
        {"transform": [{"filter": {"field": "s", "equal": "PAN8"}}], "mark": {"type": "line", "strokeWidth": 1.5, "clip": true},
         "encoding": {"stroke": {"field": "s", "type": "nominal", "scale": {"domain": ["PAN1","PAN2","PAN3","PAN4","PAN5","PAN6","PAN7","PAN8","PAN9"], "range": ["#cdc9c1","#80f080","#f08a78","#cdc9c1","#ff00ff","#333333","#cdc9c1","#1ee6e6","#45a045"]}, "legend": null}}},
        {"transform": [{"filter": {"field": "s", "equal": "PAN9"}}], "mark": {"type": "line", "strokeWidth": 1.1, "strokeDash": [1, 3], "clip": true},
         "encoding": {"stroke": {"field": "s", "type": "nominal", "scale": {"domain": ["PAN1","PAN2","PAN3","PAN4","PAN5","PAN6","PAN7","PAN8","PAN9"], "range": ["#cdc9c1","#80f080","#f08a78","#cdc9c1","#ff00ff","#333333","#cdc9c1","#1ee6e6","#45a045"]}, "legend": null}}}
      ]
    },
    {
      "width": 701, "height": 172,
      "data": {"name": "europe"},
      "title": {"text": "Réglementation en Europe", "offset": -31, "baseline": "alphabetic", "dx": 15, "frame": "group", "anchor": "middle"},
      "encoding": {
        "x": {"field": "x", "type": "quantitative", "scale": {"domain": [0, 32], "nice": false, "zero": false}, "axis": {"values": [0,1,2,3,4,5,6,7,8,9,10,11,12,13,14,15,16,17,18,19,20,21,22,23,24,25,26,27,28,29,30,31,32], "tickSize": -6, "labelPadding": 13, "title": "Cycle Elémentaire", "titleFontSize": 13, "titleY": 38, "titleBaseline": "alphabetic"}},
        "y": {"field": "y", "type": "quantitative", "scale": {"domain": [1, 9], "nice": false, "zero": false}, "axis": {"values": [2,4,6,8], "tickSize": -5, "labelPadding": 8, "title": null}}
      },
      "layer": [
        {"transform": [{"filter": {"field": "s", "oneOf": ["PAN1","PAN4","PAN7"]}}],
         "mark": {"type": "line", "strokeWidth": 1, "clip": true},
         "encoding": {"stroke": {"field": "s", "type": "nominal", "scale": {"domain": ["PAN1","PAN2","PAN3","PAN4","PAN5","PAN6","PAN7","PAN8","PAN9"], "range": ["#cdc9c1","#80f080","#f08a78","#cdc9c1","#ff00ff","#333333","#cdc9c1","#1ee6e6","#45a045"]}, "legend": null}}},
        {"transform": [{"filter": {"field": "s", "oneOf": ["PAN1","PAN4","PAN7"]}}],
         "mark": {"type": "point", "filled": true, "opacity": 1, "strokeWidth": 1.2, "clip": true},
         "encoding": {
           "shape": {"condition": {"test": "datum.s === 'PAN1'", "value": "square"}, "value": "circle"},
           "size": {"condition": {"test": "datum.s === 'PAN1'", "value": 28}, "value": 22},
           "stroke": {"condition": [{"test": "datum.s === 'PAN1'", "value": "#12dff0"}, {"test": "datum.s === 'PAN4'", "value": "#00e000"}], "value": "#ff00ff"},
           "fill": {"condition": [{"test": "datum.s === 'PAN1'", "value": "#ffffff"}, {"test": "datum.s === 'PAN4'", "value": "#00ff00"}], "value": "#ff00ff"}
         }},
        {"transform": [{"filter": {"field": "s", "equal": "PAN5"}}], "mark": {"type": "line", "strokeWidth": 1.2, "clip": true},
         "encoding": {"stroke": {"field": "s", "type": "nominal", "scale": {"domain": ["PAN1","PAN2","PAN3","PAN4","PAN5","PAN6","PAN7","PAN8","PAN9"], "range": ["#cdc9c1","#80f080","#f08a78","#cdc9c1","#ff00ff","#333333","#cdc9c1","#1ee6e6","#45a045"]}, "legend": null}}},
        {"transform": [{"filter": {"field": "s", "equal": "PAN8"}}], "mark": {"type": "line", "strokeWidth": 1.5, "clip": true},
         "encoding": {"stroke": {"field": "s", "type": "nominal", "scale": {"domain": ["PAN1","PAN2","PAN3","PAN4","PAN5","PAN6","PAN7","PAN8","PAN9"], "range": ["#cdc9c1","#80f080","#f08a78","#cdc9c1","#ff00ff","#333333","#cdc9c1","#1ee6e6","#45a045"]}, "legend": null}}},
        {"transform": [{"filter": {"field": "s", "equal": "PAN9"}}], "mark": {"type": "line", "strokeWidth": 1.1, "strokeDash": [1, 3], "clip": true},
         "encoding": {"stroke": {"field": "s", "type": "nominal", "scale": {"domain": ["PAN1","PAN2","PAN3","PAN4","PAN5","PAN6","PAN7","PAN8","PAN9"], "range": ["#cdc9c1","#80f080","#f08a78","#cdc9c1","#ff00ff","#333333","#cdc9c1","#1ee6e6","#45a045"]}, "legend": null}}}
      ]
    }
  ]
}
